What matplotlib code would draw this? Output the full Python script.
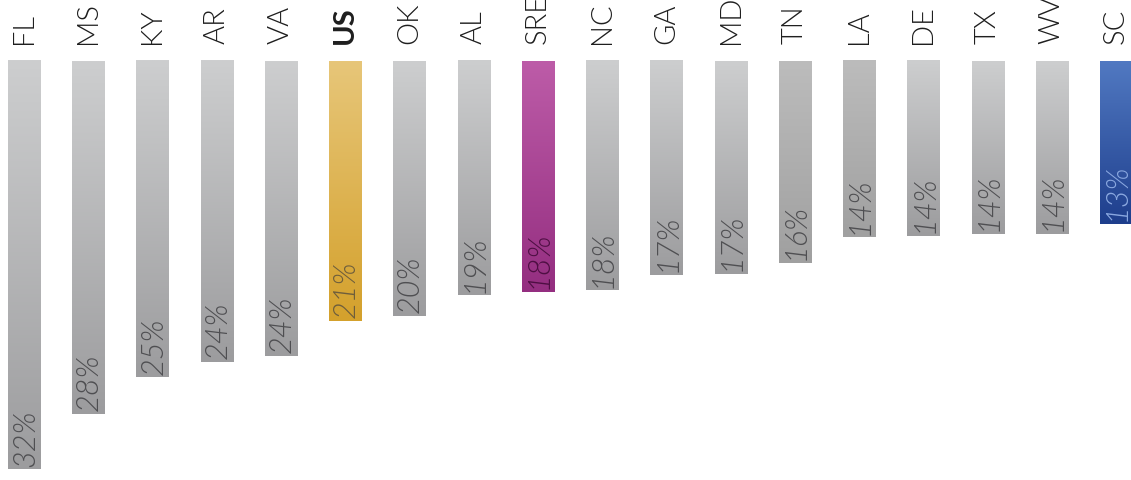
import numpy as np
import matplotlib
matplotlib.use('agg')
import matplotlib.pyplot as plt
from matplotlib.colors import LinearSegmentedColormap

# data (share, %)
states = ['FL', 'MS', 'KY', 'AR', 'VA', 'US', 'OK', 'AL', 'SRE', 'NC',
          'GA', 'MD', 'TN', 'LA', 'DE', 'TX', 'WV', 'SC']
values = [32.4, 28.0, 25.1, 23.9, 23.4, 20.6, 20.2, 18.6, 18.3, 18.2,
          17.0, 16.9, 16.0, 14.0, 13.9, 13.7, 13.7, 12.9]
labels = ['32%', '28%', '25%', '24%', '24%', '21%', '20%', '19%', '18%', '18%',
          '17%', '17%', '16%', '14%', '14%', '14%', '14%', '13%']

# gradient (top, bottom) and text colour for each bar
grey = ('#cdcecf', '#9c9c9e', '#4f4f52')
grey2 = ('#bcbcbc', '#a0a0a0', '#4f4f52')
styles = {'US': ('#e7c679', '#d4a12c', '#6e5e3c'),
          'SRE': ('#bd5ca8', '#942e80', '#4e0f43'),
          'SC': ('#5179c2', '#1e3e8c', '#8aa8e0'),
          'TN': grey2, 'LA': grey2}

fig = plt.figure(figsize=(11.31, 4.81), dpi=100)
ax = fig.add_axes([0, 0, 1, 1])
ax.set_xlim(-0.374, 17.233)
ax.set_ylim(33.25, -4.92)
ax.axis('off')

w = 0.5
grad = np.linspace(0, 1, 256).reshape(-1, 1)
for i, (s, v, lab) in enumerate(zip(states, values, labels)):
    top, bot, tc = styles.get(s, grey)
    cmap = LinearSegmentedColormap.from_list(s, [top, bot])
    ax.imshow(grad, cmap=cmap, aspect='auto', interpolation='bilinear',
              extent=(i - w / 2, i + w / 2, v, 0), zorder=2)
    ax.text(i + 0.02, v - 0.3, lab, rotation=90, ha='center', va='bottom',
            fontsize=22, style='italic', fontweight=300,
            family='Lato', color=tc, zorder=4)
    ax.text(i, -1.43, s, rotation=90, ha='center', va='bottom',
            fontsize=21, fontweight='bold' if s == 'US' else 300,
            family='Lato', color='#1e1e1e')

fig.savefig('out.png', dpi=100)
